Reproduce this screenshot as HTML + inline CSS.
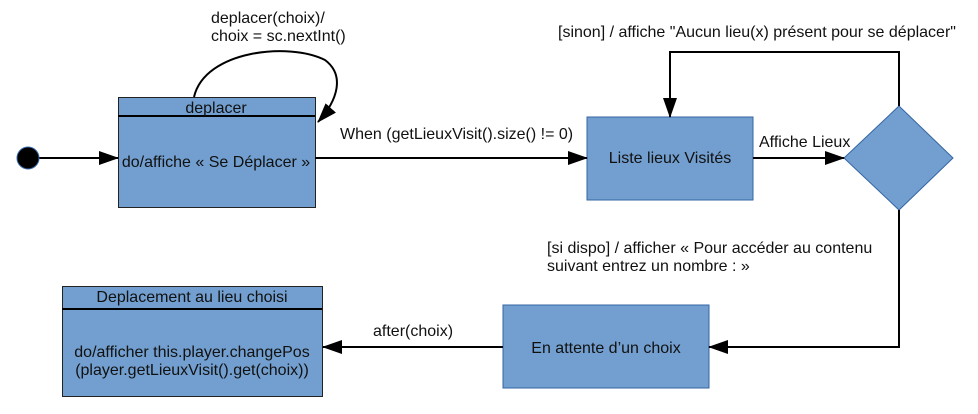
<!DOCTYPE html>
<html><head><style>
body{margin:0;background:#fff;}
svg text{font-family:"Liberation Sans",sans-serif;font-size:16px;fill:#111;}
</style></head><body>
<svg width="978" height="409" viewBox="0 0 978 409" xmlns="http://www.w3.org/2000/svg">
<defs><marker id="a" markerWidth="20" markerHeight="14" refX="19" refY="7" orient="auto" markerUnits="userSpaceOnUse"><path d="M0,0 L20,7 L0,14 z" fill="#000"/></marker></defs>
<g fill="#729fcf" stroke="#3465a4" stroke-width="1">
<rect x="587" y="117" width="166" height="83"/>
<rect x="503" y="305" width="206" height="83"/>
<polygon points="899,106 953,158 899,210 844,158"/>
</g>
<g fill="#729fcf" stroke="#222" stroke-width="1">
<rect x="118.5" y="97.5" width="197" height="110"/>
<rect x="62.5" y="286.5" width="260" height="110"/>
</g>
<g stroke="#000" stroke-width="2" fill="none">
<line x1="118" y1="116" x2="315" y2="116"/>
<line x1="62" y1="309" x2="322" y2="309"/>
<line x1="39" y1="158" x2="118" y2="158" marker-end="url(#a)"/>
<line x1="315" y1="158" x2="587" y2="158" marker-end="url(#a)"/>
<line x1="753" y1="158" x2="844" y2="158" marker-end="url(#a)"/>
<polyline points="899,106 899,52 670,52 670,117" marker-end="url(#a)"/>
<polyline points="899,210 899,347 709,347" marker-end="url(#a)"/>
<line x1="503" y1="347" x2="323" y2="347" marker-end="url(#a)"/>
<path d="M194,97 C205,50 290,42 325,60 C345,75 338,100 318,122" marker-end="url(#a)"/>
</g>
<circle cx="28" cy="158" r="11" fill="#000" stroke="#3465a4"/>
<text x="216" y="113" text-anchor="middle">deplacer</text>
<text x="216" y="167" text-anchor="middle">do/affiche « Se Déplacer »</text>
<text x="211" y="23">deplacer(choix)/</text>
<text x="211" y="41">choix = sc.nextInt()</text>
<text x="340" y="139">When (getLieuxVisit().size() != 0)</text>
<text x="670" y="163" text-anchor="middle">Liste lieux Visités</text>
<text x="759" y="147">Affiche Lieux</text>
<text x="558" y="37">[sinon] / affiche "Aucun lieu(x) présent pour se déplacer"</text>
<text x="547" y="253">[si dispo] / afficher « Pour accéder au contenu</text>
<text x="547" y="271">suivant entrez un nombre : »</text>
<text x="606" y="353" text-anchor="middle">En attente d’un choix</text>
<text x="373" y="336">after(choix)</text>
<text x="192" y="302" text-anchor="middle">Deplacement au lieu choisi</text>
<text x="192" y="357" text-anchor="middle">do/afficher this.player.changePos</text>
<text x="192" y="375" text-anchor="middle">(player.getLieuxVisit().get(choix))</text>
</svg>
</body></html>
